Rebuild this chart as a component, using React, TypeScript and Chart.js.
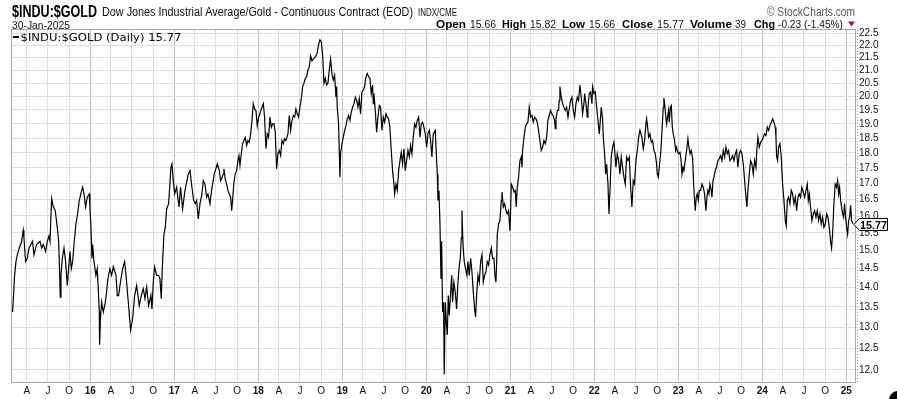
import React, { useEffect, useRef } from "react";
import { Chart, registerables } from "chart.js";

Chart.register(...registerables);

// ---- Data (decimal year, ratio value) ----
const t2015_17 = [2015.075, 2015.099, 2015.115, 2015.131, 2015.155, 2015.183, 2015.194, 2015.202, 2015.21, 2015.23, 2015.25, 2015.27, 2015.313, 2015.329, 2015.361, 2015.401, 2015.421, 2015.44, 2015.468, 2015.488, 2015.508, 2015.52, 2015.54, 2015.56, 2015.583, 2015.607, 2015.623, 2015.631, 2015.643, 2015.651, 2015.667, 2015.687, 2015.706, 2015.726, 2015.742, 2015.758, 2015.774, 2015.79, 2015.806, 2015.829, 2015.849, 2015.869, 2015.897, 2015.909, 2015.925, 2015.944, 2015.964, 2015.988, 2015.996, 2016.008, 2016.02, 2016.028, 2016.044, 2016.067, 2016.083, 2016.095, 2016.107, 2016.111, 2016.123, 2016.135, 2016.155, 2016.179, 2016.194, 2016.21, 2016.234, 2016.254, 2016.274, 2016.306, 2016.321, 2016.337, 2016.353, 2016.385, 2016.409, 2016.429, 2016.456, 2016.48, 2016.504, 2016.528, 2016.552, 2016.583, 2016.607, 2016.631, 2016.651, 2016.671, 2016.694, 2016.722, 2016.734, 2016.75, 2016.766, 2016.79, 2016.813, 2016.829, 2016.845, 2016.857, 2016.877, 2016.893, 2016.909, 2016.933, 2016.96, 2016.972, 2016.988, 2017.004, 2017.028, 2017.056, 2017.075, 2017.099, 2017.127, 2017.167, 2017.187, 2017.21, 2017.23, 2017.25, 2017.266, 2017.286, 2017.306, 2017.329, 2017.345, 2017.365, 2017.385, 2017.401, 2017.425, 2017.444, 2017.456, 2017.476, 2017.512, 2017.536, 2017.552];
const v2015_17 = [13.37, 14.32, 14.69, 14.88, 15.07, 15.26, 15.46, 15.58, 15.36, 14.69, 14.78, 15.07, 15.26, 14.88, 15.17, 15.26, 15.07, 15.17, 14.97, 15.26, 15.41, 15.26, 16.52, 16.27, 16.16, 15.66, 15.26, 14.69, 13.75, 14.32, 14.78, 15.07, 14.69, 14.05, 14.5, 14.97, 14.5, 14.69, 15.17, 15.76, 16.06, 16.47, 16.78, 16.88, 16.67, 16.27, 16.57, 16.67, 16.27, 15.66, 14.78, 15.17, 14.69, 14.32, 14.5, 13.97, 13.37, 12.58, 13.29, 13.62, 13.37, 13.62, 13.88, 14.23, 14.5, 14.32, 14.55, 14.32, 13.79, 13.79, 14.05, 14.5, 14.69, 14.23, 13.53, 12.93, 13.21, 13.79, 14.05, 13.53, 13.79, 13.97, 13.71, 14.01, 13.53, 13.79, 13.45, 14.14, 14.55, 14.32, 14.32, 14.23, 13.71, 14.5, 15.46, 15.66, 16.21, 16.37, 17.52, 17.63, 17.09, 16.67, 16.88, 16.27, 16.88, 16.21, 16.78, 17.3, 17.41, 16.88, 16.47, 16.37, 16.47, 15.91, 16.37, 16.67, 17.09, 16.98, 16.57, 16.67, 16.37, 16.78, 16.98, 17.3, 17.63, 17.41, 17.09];

const t2017_20 = [2017.583, 2017.591, 2017.607, 2017.623, 2017.639, 2017.655, 2017.671, 2017.683, 2017.694, 2017.71, 2017.726, 2017.742, 2017.758, 2017.77, 2017.782, 2017.798, 2017.813, 2017.829, 2017.845, 2017.861, 2017.877, 2017.893, 2017.909, 2017.925, 2017.94, 2017.956, 2017.972, 2017.988, 2018.004, 2018.02, 2018.036, 2018.06, 2018.075, 2018.091, 2018.107, 2018.123, 2018.139, 2018.155, 2018.171, 2018.187, 2018.202, 2018.218, 2018.234, 2018.25, 2018.266, 2018.282, 2018.298, 2018.313, 2018.329, 2018.353, 2018.369, 2018.385, 2018.401, 2018.417, 2018.433, 2018.448, 2018.464, 2018.48, 2018.496, 2018.512, 2018.528, 2018.544, 2018.56, 2018.575, 2018.591, 2018.607, 2018.623, 2018.639, 2018.655, 2018.671, 2018.687, 2018.702, 2018.718, 2018.734, 2018.75, 2018.766, 2018.782, 2018.798, 2018.813, 2018.829, 2018.845, 2018.861, 2018.877, 2018.893, 2018.909, 2018.925, 2018.933, 2018.94, 2018.956, 2018.972, 2018.98, 2018.996, 2019.012, 2019.028, 2019.044, 2019.06, 2019.075, 2019.091, 2019.107, 2019.123, 2019.139, 2019.155, 2019.171, 2019.187, 2019.202, 2019.218, 2019.234, 2019.25, 2019.266, 2019.282, 2019.298, 2019.313, 2019.329, 2019.345, 2019.361, 2019.369, 2019.377, 2019.393, 2019.409, 2019.425, 2019.44, 2019.456, 2019.472, 2019.488, 2019.504, 2019.52, 2019.536, 2019.552, 2019.567, 2019.583, 2019.599, 2019.615, 2019.623, 2019.639, 2019.655, 2019.671, 2019.687, 2019.702, 2019.718, 2019.734, 2019.75, 2019.766, 2019.782, 2019.798, 2019.813, 2019.829, 2019.845, 2019.861, 2019.877, 2019.893, 2019.909, 2019.925, 2019.94, 2019.956, 2019.972, 2019.988, 2020.004, 2020.02, 2020.036, 2020.052, 2020.067, 2020.083];
const v2017_20 = [17.3, 17.47, 17.14, 16.98, 16.78, 16.67, 16.57, 16.16, 16.47, 17.03, 17.3, 17.41, 17.74, 17.91, 17.58, 17.97, 18.31, 18.42, 18.53, 18.25, 18.42, 18.36, 18.65, 19.12, 19.73, 19.54, 19.48, 18.94, 19.24, 19.36, 19.54, 19.73, 19.24, 18.14, 18.65, 18.53, 19.24, 18.88, 19.0, 19.0, 18.71, 17.47, 17.97, 18.08, 17.91, 18.42, 18.31, 18.48, 18.42, 18.65, 19.3, 18.77, 19.12, 19.3, 19.24, 19.54, 19.36, 19.24, 19.6, 19.91, 20.37, 20.5, 20.69, 20.75, 21.0, 21.13, 21.57, 21.38, 21.44, 21.5, 21.57, 21.7, 22.03, 22.23, 22.16, 21.63, 20.5, 20.69, 20.43, 20.5, 21.0, 21.44, 20.87, 20.62, 20.81, 19.97, 20.37, 19.6, 19.0, 17.2, 17.97, 18.31, 18.53, 18.77, 18.94, 19.18, 19.3, 19.12, 19.42, 19.6, 19.73, 19.97, 19.85, 19.6, 19.91, 19.36, 20.17, 20.24, 20.37, 20.75, 20.87, 20.75, 20.69, 20.11, 20.43, 19.73, 20.11, 19.48, 18.71, 19.24, 19.66, 19.6, 18.77, 19.24, 19.06, 19.36, 19.24, 19.18, 18.88, 18.08, 17.41, 16.98, 16.67, 16.98, 16.78, 17.41, 17.74, 18.02, 17.63, 18.14, 17.41, 17.74, 18.08, 17.86, 18.25, 17.97, 18.53, 19.0, 18.88, 19.12, 19.24, 18.53, 19.0, 19.06, 18.88, 18.65, 18.19, 18.65, 18.77, 18.42, 17.86, 18.65];

const t2020_22 = [2020.107, 2020.119, 2020.131, 2020.139, 2020.151, 2020.163, 2020.175, 2020.183, 2020.194, 2020.206, 2020.214, 2020.226, 2020.238, 2020.25, 2020.262, 2020.274, 2020.29, 2020.302, 2020.313, 2020.329, 2020.345, 2020.361, 2020.377, 2020.393, 2020.405, 2020.417, 2020.425, 2020.433, 2020.44, 2020.452, 2020.468, 2020.484, 2020.496, 2020.512, 2020.528, 2020.544, 2020.56, 2020.575, 2020.587, 2020.599, 2020.615, 2020.631, 2020.647, 2020.663, 2020.679, 2020.694, 2020.71, 2020.726, 2020.742, 2020.758, 2020.774, 2020.79, 2020.806, 2020.817, 2020.829, 2020.837, 2020.845, 2020.861, 2020.877, 2020.893, 2020.901, 2020.917, 2020.933, 2020.948, 2020.964, 2020.98, 2020.996, 2021.004, 2021.012, 2021.028, 2021.044, 2021.06, 2021.071, 2021.083, 2021.099, 2021.115, 2021.131, 2021.139, 2021.147, 2021.163, 2021.179, 2021.194, 2021.21, 2021.226, 2021.242, 2021.258, 2021.274, 2021.29, 2021.306, 2021.321, 2021.337, 2021.353, 2021.369, 2021.385, 2021.401, 2021.417, 2021.433, 2021.448, 2021.464, 2021.48, 2021.496, 2021.512, 2021.528, 2021.536, 2021.544, 2021.56, 2021.575, 2021.583, 2021.591, 2021.607, 2021.623, 2021.639, 2021.655, 2021.671, 2021.687, 2021.702, 2021.718, 2021.734, 2021.75, 2021.766, 2021.782, 2021.798, 2021.813, 2021.829, 2021.845, 2021.861, 2021.877, 2021.885, 2021.901, 2021.917, 2021.925, 2021.94, 2021.956, 2021.972, 2021.98, 2021.996, 2022.012, 2022.028, 2022.044, 2022.06, 2022.075, 2022.083, 2022.099, 2022.107, 2022.123, 2022.135, 2022.147, 2022.163, 2022.175, 2022.187, 2022.202, 2022.218, 2022.234, 2022.246, 2022.258, 2022.274, 2022.29, 2022.306, 2022.321, 2022.337, 2022.353, 2022.369, 2022.385, 2022.401, 2022.417, 2022.433, 2022.448, 2022.464, 2022.48, 2022.496, 2022.512, 2022.528, 2022.544];
const v2020_22 = [18.77, 17.97, 17.3, 16.47, 16.78, 15.76, 14.23, 15.26, 13.37, 13.62, 11.9, 13.62, 13.13, 12.81, 13.79, 13.29, 13.88, 14.32, 13.62, 14.14, 13.88, 13.45, 14.14, 14.6, 14.78, 15.36, 16.16, 15.46, 15.07, 14.69, 14.5, 14.32, 14.69, 14.32, 14.78, 14.41, 13.88, 13.45, 13.25, 13.79, 14.32, 14.14, 14.69, 14.88, 14.14, 14.32, 14.41, 14.69, 14.6, 14.88, 15.07, 14.78, 14.78, 14.32, 14.14, 14.6, 15.46, 15.76, 15.86, 16.47, 16.73, 16.27, 16.37, 16.16, 16.06, 16.16, 15.56, 16.16, 16.98, 16.88, 16.73, 16.78, 16.27, 16.88, 17.2, 17.74, 17.86, 17.52, 18.08, 18.53, 18.88, 19.0, 19.06, 19.6, 19.24, 19.3, 19.06, 19.24, 19.18, 19.06, 18.77, 18.42, 18.08, 18.19, 18.42, 18.31, 18.53, 19.12, 19.3, 19.48, 19.36, 19.3, 19.12, 18.83, 19.18, 19.48, 19.48, 19.85, 20.37, 19.97, 19.73, 19.6, 19.48, 19.6, 19.24, 19.54, 19.85, 19.97, 19.48, 19.24, 19.73, 19.97, 19.85, 20.43, 19.97, 19.36, 19.73, 20.11, 19.73, 19.24, 19.6, 20.11, 20.17, 19.73, 20.37, 20.11, 20.17, 19.6, 19.12, 18.65, 19.24, 19.6, 19.18, 18.53, 17.97, 17.3, 17.63, 16.98, 16.06, 16.78, 17.86, 18.19, 18.36, 17.97, 17.52, 17.97, 17.74, 17.3, 17.86, 17.52, 17.2, 16.98, 17.86, 17.74, 17.86, 16.88, 16.27, 17.09, 16.98, 17.74, 18.08, 18.53, 18.77];

const t2022_25 = [2022.567, 2022.583, 2022.599, 2022.615, 2022.623, 2022.631, 2022.647, 2022.663, 2022.679, 2022.694, 2022.71, 2022.726, 2022.742, 2022.75, 2022.762, 2022.774, 2022.79, 2022.802, 2022.813, 2022.821, 2022.829, 2022.837, 2022.849, 2022.861, 2022.873, 2022.885, 2022.893, 2022.905, 2022.917, 2022.929, 2022.94, 2022.956, 2022.968, 2022.98, 2022.992, 2023.004, 2023.02, 2023.032, 2023.044, 2023.056, 2023.067, 2023.083, 2023.099, 2023.115, 2023.127, 2023.139, 2023.155, 2023.171, 2023.183, 2023.194, 2023.202, 2023.214, 2023.226, 2023.238, 2023.25, 2023.266, 2023.282, 2023.298, 2023.313, 2023.329, 2023.341, 2023.353, 2023.365, 2023.377, 2023.393, 2023.401, 2023.413, 2023.425, 2023.44, 2023.456, 2023.472, 2023.488, 2023.504, 2023.52, 2023.536, 2023.552, 2023.567, 2023.583, 2023.599, 2023.615, 2023.631, 2023.647, 2023.663, 2023.679, 2023.694, 2023.71, 2023.726, 2023.742, 2023.758, 2023.774, 2023.79, 2023.806, 2023.817, 2023.829, 2023.845, 2023.861, 2023.877, 2023.893, 2023.909, 2023.925, 2023.937, 2023.948, 2023.964, 2023.98, 2023.996, 2024.012, 2024.028, 2024.044, 2024.06, 2024.075, 2024.091, 2024.107, 2024.123, 2024.139, 2024.155, 2024.163, 2024.171, 2024.183, 2024.194, 2024.21, 2024.226, 2024.242, 2024.258, 2024.274, 2024.286, 2024.298, 2024.313, 2024.329, 2024.345, 2024.361, 2024.377, 2024.393, 2024.409, 2024.425, 2024.44, 2024.456, 2024.472, 2024.488, 2024.504, 2024.52, 2024.536, 2024.548, 2024.56, 2024.575, 2024.591, 2024.607, 2024.623, 2024.639, 2024.655, 2024.671, 2024.687, 2024.702, 2024.718, 2024.734, 2024.75, 2024.766, 2024.782, 2024.798, 2024.813, 2024.825, 2024.837, 2024.853, 2024.869, 2024.885, 2024.897, 2024.909, 2024.921, 2024.933, 2024.944, 2024.956, 2024.968, 2024.98, 2024.992, 2025.004, 2025.016, 2025.028, 2025.04, 2025.052, 2025.063, 2025.081];
const v2022_25 = [18.53, 18.14, 18.42, 19.0, 19.18, 19.0, 18.53, 18.65, 18.36, 18.42, 18.08, 17.97, 17.63, 17.3, 17.2, 17.52, 17.97, 18.53, 19.12, 19.6, 19.95, 19.73, 19.36, 19.0, 19.24, 19.48, 19.06, 19.6, 19.66, 18.88, 18.65, 18.42, 18.08, 18.19, 18.02, 17.97, 18.02, 17.8, 17.3, 17.52, 17.41, 17.74, 18.08, 18.48, 18.19, 17.97, 18.08, 17.8, 16.98, 16.47, 16.16, 16.57, 16.67, 16.47, 16.78, 16.78, 16.98, 16.88, 16.67, 16.16, 16.57, 16.78, 16.67, 16.98, 16.78, 16.57, 17.09, 17.2, 17.41, 17.52, 17.74, 17.8, 17.91, 17.74, 18.08, 17.86, 18.19, 17.97, 18.08, 17.74, 17.8, 17.91, 17.74, 17.97, 18.08, 17.52, 17.97, 18.08, 17.97, 17.63, 17.09, 16.57, 16.27, 16.78, 17.3, 17.74, 17.63, 17.3, 17.74, 17.52, 18.19, 18.53, 18.19, 18.36, 18.42, 18.53, 18.65, 18.59, 18.88, 18.77, 18.94, 19.06, 19.18, 19.06, 18.88, 18.53, 17.86, 17.74, 18.19, 18.31, 17.86, 16.98, 16.47, 15.86, 15.71, 16.47, 16.57, 16.37, 16.78, 16.67, 16.37, 16.57, 16.16, 16.57, 16.67, 16.57, 16.88, 16.73, 16.57, 16.78, 16.98, 16.47, 16.67, 16.27, 15.86, 16.06, 16.16, 15.96, 16.16, 15.86, 16.06, 15.76, 15.96, 15.66, 15.76, 16.06, 15.96, 15.66, 15.26, 15.07, 15.46, 16.37, 16.98, 16.88, 17.09, 16.67, 16.88, 16.47, 16.27, 16.06, 15.96, 16.37, 15.96, 15.66, 15.46, 15.86, 15.96, 16.32, 15.86, 15.77];

// ---- Axis labels ----
const tickYears = [2015, 2016, 2017, 2018, 2019, 2020, 2021, 2022, 2023, 2024, 2025];
const quarterLetters = ["A", "J", "O"];
const quarterOffsets = [0.246, 0.496, 0.748];
const yTickValues = [12.0, 12.5, 13.0, 13.5, 14.0, 14.5, 15.0, 15.5, 16.0, 16.5, 17.0, 17.5, 18.0, 18.5, 19.0, 19.5, 20.0, 20.5, 21.0, 21.5, 22.0, 22.5];

const lastClose = 15.77;
const headerStats = [
  ["Open", "15.66"],
  ["High", "15.82"],
  ["Low", "15.66"],
  ["Close", "15.77"],
  ["Volume", "39"],
  ["Chg", "-0.23 (-1.45%)"],
];

const W = 897;
const H = 399;
const FONT = "'Liberation Sans', Arial, sans-serif";

type Tk = { value: number; label: string; year: boolean };
const xTicks: Tk[] = [];
tickYears.forEach((yr) => {
  if (yr > 2015) xTicks.push({ value: yr, label: String(yr % 100).padStart(2, "0"), year: true });
  if (yr < 2025) quarterOffsets.forEach((o, i) => xTicks.push({ value: yr + o, label: quarterLetters[i], year: false }));
});

function findTick(v: number): Tk | undefined {
  return xTicks.find((t) => Math.abs(t.value - v) < 1e-6);
}

function fitText(ctx: CanvasRenderingContext2D, text: string, x: number, base: number, width: number, font: string, color: string) {
  ctx.save();
  ctx.font = font;
  ctx.fillStyle = color;
  ctx.textAlign = "left";
  ctx.textBaseline = "alphabetic";
  const w = ctx.measureText(text).width;
  ctx.translate(x, base);
  ctx.scale(width / w, 1);
  ctx.fillText(text, 0, 0);
  ctx.restore();
}

const decor = {
  id: "decor",
  afterDraw(chart: any) {
    const { ctx, chartArea } = chart;
    const { left, top, right, bottom } = chartArea;
    ctx.save();
    // frame
    ctx.strokeStyle = "#a8a8a8";
    ctx.lineWidth = 1;
    ctx.strokeRect(left - 0.5, top - 0.5, right - left + 1, bottom - top + 1);
    // dotted axis ticks on right
    ctx.strokeStyle = "#9a9a9a";
    ctx.setLineDash([1, 2]);
    ctx.beginPath();
    ctx.moveTo(right + 2.5, top);
    ctx.lineTo(right + 2.5, bottom);
    ctx.stroke();
    ctx.setLineDash([]);

    // header line 1
    fitText(ctx, "$INDU:$GOLD", 12, 16.5, 85, `bold 16px ${FONT}`, "#000");
    fitText(ctx, "Dow Jones Industrial Average/Gold - Continuous Contract (EOD)", 102, 16, 311, `12px ${FONT}`, "#111");
    fitText(ctx, "INDX/CME", 418, 16, 39, `10px ${FONT}`, "#111");
    fitText(ctx, "\u00A9 StockCharts.com", 767, 16, 88, `12px ${FONT}`, "#5a5a5a");
    // header line 2
    fitText(ctx, "30-Jan-2025", 12, 28.5, 58, `11px ${FONT}`, "#111");
    const pos = [
      [436, 466, 470, 496],
      [502, 526, 530, 556],
      [562, 585, 589, 615],
      [622, 653, 657, 684],
      [690, 732, 735, 746],
      [754, 775, 778, 843],
    ];
    headerStats.forEach((s, i) => {
      const p = pos[i];
      fitText(ctx, s[0], p[0], 27.5, p[1] - p[0], `bold 11.5px ${FONT}`, "#000");
      fitText(ctx, s[1], p[2], 27.5, p[3] - p[2], `10.5px ${FONT}`, "#111");
    });
    ctx.fillStyle = "#a3123f";
    ctx.beginPath();
    ctx.moveTo(848, 21.5);
    ctx.lineTo(855, 21.5);
    ctx.lineTo(851.5, 26.5);
    ctx.closePath();
    ctx.fill();

    // legend
    ctx.fillStyle = "#000";
    ctx.fillRect(13, 36, 6, 2);
    fitText(ctx, "$INDU:$GOLD (Daily) 15.77", 20.5, 41, 161, `11px 'DejaVu Sans', sans-serif`, "#000");

    // last price tag
    const y = Math.round(chart.scales.y.getPixelForValue(lastClose)) + 0.5;
    ctx.beginPath();
    ctx.moveTo(854, y);
    ctx.lineTo(859.5, y - 6);
    ctx.lineTo(887.5, y - 6);
    ctx.lineTo(887.5, y + 6);
    ctx.lineTo(859.5, y + 6);
    ctx.closePath();
    ctx.fillStyle = "#fff";
    ctx.fill();
    ctx.strokeStyle = "#000";
    ctx.lineWidth = 1;
    ctx.stroke();
    fitText(ctx, lastClose.toFixed(2), 860, y + 4.5, 27, `bold 11px ${FONT}`, "#000");

    // corner badge
    ctx.fillStyle = "#000";
    ctx.beginPath();
    ctx.arc(898, 400, 9, 0, Math.PI * 2);
    ctx.fill();
    ctx.restore();
  },
};

export default function App() {
  const ref = useRef<HTMLCanvasElement | null>(null);
  useEffect(() => {
    document.body.style.margin = "0";
    const canvas = ref.current!;
    const times = [...t2015_17, ...t2017_20, ...t2020_22, ...t2022_25];
    const vals = [...v2015_17, ...v2017_20, ...v2020_22, ...v2022_25];
    const points = times.map((t, i) => ({ x: t, y: vals[i] }));
    const chart = new Chart(canvas, {
      type: "line",
      data: {
        datasets: [
          {
            data: points,
            borderColor: "#000",
            borderWidth: 1.2,
            pointRadius: 0,
            tension: 0,
            fill: false,
          },
        ],
      },
      options: {
        animation: false,
        responsive: false,
        devicePixelRatio: 1,
        layout: { padding: { left: 12, top: 30, right: 0, bottom: 0 } },
        plugins: { legend: { display: false }, tooltip: { enabled: false } },
        scales: {
          x: {
            type: "linear",
            bounds: "data",
            min: 2015.068,
            max: 2025.104,
            afterBuildTicks: (s: any) => {
              s.ticks = xTicks.map((t) => ({ value: t.value }));
            },
            afterFit: (s: any) => {
              s.height = 17;
            },
            border: { display: false },
            grid: {
              drawTicks: false,
              color: (c: any) => (findTick(c.tick?.value)?.year ? "#c2c2c2" : "#dedede"),
            },
            ticks: {
              autoSkip: false,
              maxRotation: 0,
              padding: 3,
              color: "#111",
              font: (c: any) => ({ family: FONT, size: 10, weight: findTick(c.tick?.value)?.year ? "bold" : "normal" }),
              callback: (v: any) => findTick(Number(v))?.label ?? "",
            },
          },
          y: {
            type: "logarithmic",
            position: "right",
            bounds: "data",
            min: 11.734,
            max: 22.64,
            afterBuildTicks: (s: any) => {
              s.ticks = yTickValues.map((v) => ({ value: v }));
            },
            afterFit: (s: any) => {
              s.width = 42;
            },
            border: { display: false },
            grid: { drawTicks: false, color: "#dedede" },
            ticks: {
              autoSkip: false,
              padding: 4,
              color: "#111",
              font: { family: FONT, size: 10 },
              callback: (v: any) => Number(v).toFixed(1),
            },
          },
        },
      },
      plugins: [decor],
    });
    return () => chart.destroy();
  }, []);
  return (
    <div style={{ position: "absolute", left: 0, top: 0, width: W, height: H, background: "#fff" }}>
      <canvas ref={ref} width={W} height={H} style={{ display: "block" }} />
    </div>
  );
}
